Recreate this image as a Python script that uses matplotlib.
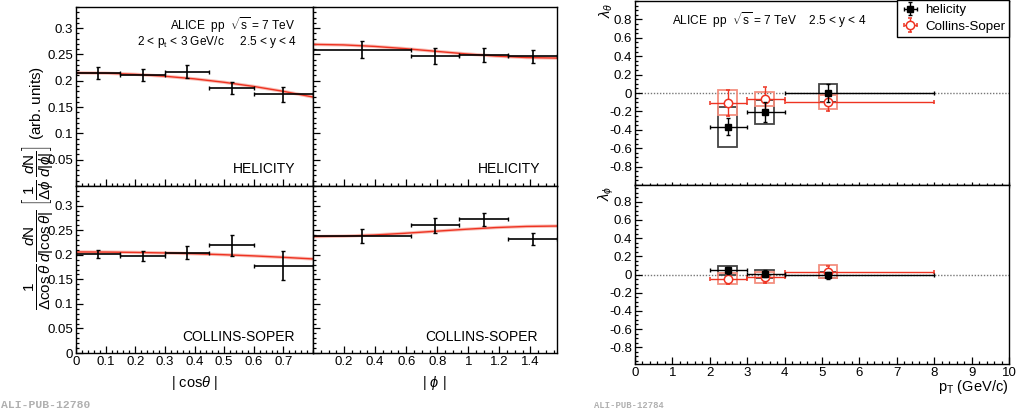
import matplotlib
matplotlib.use("Agg")
import matplotlib.pyplot as plt
from matplotlib.patches import Rectangle
from matplotlib.ticker import MultipleLocator, FuncFormatter

plt.rcParams['font.family'] = ['Liberation Sans', 'DejaVu Sans']
plt.rcParams['mathtext.fontset'] = 'custom'
plt.rcParams['mathtext.rm'] = 'Liberation Sans'
plt.rcParams['mathtext.it'] = 'Liberation Sans:italic'
plt.rcParams['mathtext.bf'] = 'Liberation Sans:bold'
plt.rcParams['axes.unicode_minus'] = False

# ---- angular distributions, 2 < pT < 3 GeV/c ----
cos_edges = [0, 0.15, 0.3, 0.45, 0.6, 0.8]
cos_x = [0.075, 0.225, 0.375, 0.525, 0.7]
phi_edges = [0, 0.628, 0.942, 1.257, 1.571]
phi_x = [0.314, 0.785, 1.100, 1.414]

hel_cos = [0.2145, 0.211, 0.217, 0.186, 0.174]
hel_cos_err = [0.011, 0.012, 0.012, 0.012, 0.014]
hel_phi = [0.2585, 0.247, 0.249, 0.246]
hel_phi_err = [0.016, 0.015, 0.013, 0.012]
cs_cos = [0.2016, 0.198, 0.204, 0.219, 0.178]
cs_cos_err = [0.008, 0.0105, 0.013, 0.022, 0.030]
cs_phi = [0.238, 0.260, 0.272, 0.2315]
cs_phi_err = [0.015, 0.015, 0.0135, 0.012]

# fitted curves
fit_cos_x = [0, 0.1, 0.2, 0.3, 0.4, 0.5, 0.6, 0.7, 0.8]
fit_hel_cos = [0.2150, 0.2143, 0.2121, 0.2085, 0.2035, 0.1970, 0.1891, 0.1798, 0.1690]
fit_cs_cos = [0.2057, 0.2055, 0.2048, 0.2037, 0.2021, 0.2001, 0.1977, 0.1948, 0.1915]
fit_phi_x = [0, 0.196, 0.393, 0.589, 0.785, 0.982, 1.178, 1.374, 1.571]
fit_hel_phi = [0.269, 0.268, 0.2652, 0.261, 0.256, 0.251, 0.2468, 0.244, 0.243]
fit_cs_phi = [0.237, 0.2379, 0.2402, 0.2437, 0.2478, 0.2519, 0.2554, 0.2577, 0.2585]

# ---- polarization parameters vs pT ----
pt = [2.48, 3.47, 5.16]
pt_lo = [2, 3, 4]
pt_hi = [3, 4, 8]
lth_hel = [-0.367, -0.208, 0.0]
lth_hel_stat = [0.093, 0.107, 0.10]
lth_hel_syst = [0.22, 0.13, 0.10]
lth_cs = [-0.104, -0.062, -0.098]
lth_cs_stat = [0.142, 0.129, 0.095]
lth_cs_syst = [0.135, 0.077, 0.08]
lph_hel = [0.047, 0.01, -0.008]
lph_hel_stat = [0.036, 0.04, 0.04]
lph_hel_syst = [0.05, 0.045, 0.035]
lph_cs = [-0.045, -0.03, 0.03]
lph_cs_stat = [0.055, 0.06, 0.06]
lph_cs_syst = [0.065, 0.06, 0.07]

RED = '#ee3322'
W, H = 1025, 415


def frac(x0, y0, x1, y1):
    return [x0 / W, 1 - y1 / H, (x1 - x0) / W, (y1 - y0) / H]


def fx(px):
    return px / W


def fy(py):
    return 1 - py / H


fmt = FuncFormatter(lambda v, p: f"{v:g}")


def style(ax, xlim, ylim, xmaj, xmin, ymaj, ymin, xticks=None, yticks=None,
          labelx=True, labely=True):
    ax.set_xlim(*xlim)
    ax.set_ylim(*ylim)
    ax.xaxis.set_major_locator(MultipleLocator(xmaj))
    ax.xaxis.set_minor_locator(MultipleLocator(xmin))
    ax.yaxis.set_major_locator(MultipleLocator(ymaj))
    ax.yaxis.set_minor_locator(MultipleLocator(ymin))
    if xticks is not None:
        ax.set_xticks(xticks)
    if yticks is not None:
        ax.set_yticks(yticks)
    ax.xaxis.set_major_formatter(fmt)
    ax.yaxis.set_major_formatter(fmt)
    ax.tick_params(which='both', direction='in', top=False, right=False,
                   labelsize=9.5, width=0.9, pad=2)
    ax.tick_params(which='major', length=5)
    ax.tick_params(which='minor', length=2.5)
    ax.tick_params(labelbottom=labelx, labelleft=labely)
    for s in ax.spines.values():
        s.set_linewidth(1.0)


def ang_panel(ax, x, edges, y, err, fx_, fy_):
    lo = [xi - e for xi, e in zip(x, edges[:-1])]
    hi = [e - xi for xi, e in zip(x, edges[1:])]
    ax.plot(fx_, fy_, color='#f9c0b8', lw=2.4, zorder=1)
    ax.plot(fx_, fy_, color=RED, lw=1.0, zorder=2)
    ax.errorbar(x, y, xerr=[lo, hi], yerr=err, fmt='none', ecolor='black',
                elinewidth=1.2, capsize=1.5, capthick=1.0, zorder=3)


fig = plt.figure(figsize=(10.25, 4.15), dpi=100)

ax_hc = fig.add_axes(frac(76, 7, 313, 186))
ax_hp = fig.add_axes(frac(313, 7, 557, 186))
ax_cc = fig.add_axes(frac(76, 186, 313, 353))
ax_cp = fig.add_axes(frac(313, 186, 557, 353))

ang_yt = [0.05, 0.1, 0.15, 0.2, 0.25, 0.3]
style(ax_hc, (0, 0.8), (0, 0.34), 0.1, 0.02, 0.05, 0.01, yticks=ang_yt, labelx=False)
style(ax_hp, (0, 1.5708), (0, 0.34), 0.2, 0.05, 0.05, 0.01, labelx=False, labely=False)
style(ax_cc, (0, 0.8), (0, 0.34), 0.1, 0.02, 0.05, 0.01,
      xticks=[0, 0.1, 0.2, 0.3, 0.4, 0.5, 0.6, 0.7], yticks=[0] + ang_yt)
style(ax_cp, (0, 1.5708), (0, 0.34), 0.2, 0.05, 0.05, 0.01,
      xticks=[0.2, 0.4, 0.6, 0.8, 1.0, 1.2, 1.4], labely=False)

ang_panel(ax_hc, cos_x, cos_edges, hel_cos, hel_cos_err, fit_cos_x, fit_hel_cos)
ang_panel(ax_hp, phi_x, phi_edges, hel_phi, hel_phi_err, fit_phi_x, fit_hel_phi)
ang_panel(ax_cc, cos_x, cos_edges, cs_cos, cs_cos_err, fit_cos_x, fit_cs_cos)
ang_panel(ax_cp, phi_x, phi_edges, cs_phi, cs_phi_err, fit_phi_x, fit_cs_phi)

fig.text(fx(295), fy(25), r"ALICE  pp  $\sqrt{\mathrm{s}}$ = 7 TeV", ha='right', va='center', fontsize=8.6)
fig.text(fx(297), fy(42), r"2 < p$_{\mathrm{t}}$ < 3 GeV/c     2.5 < y < 4", ha='right', va='center', fontsize=8.6)
fig.text(fx(295), fy(169), "HELICITY", ha='right', va='center', fontsize=10)
fig.text(fx(540), fy(169), "HELICITY", ha='right', va='center', fontsize=10)
fig.text(fx(295), fy(337), "COLLINS-SOPER", ha='right', va='center', fontsize=10)
fig.text(fx(538), fy(337), "COLLINS-SOPER", ha='right', va='center', fontsize=10)

ylab = (r"$\dfrac{1}{\Delta\cos\theta}\,\dfrac{d\mathrm{N}}{d|\cos\theta|}\;"
        r"\left[\dfrac{1}{\Delta\phi}\,\dfrac{d\mathrm{N}}{d|\phi|}\right]$ (arb. units)")
fig.text(fx(38), fy(188), ylab, rotation=90, ha='center', va='center', fontsize=11)
fig.text(fx(194), fy(383), r"| cos$\theta$ |", ha='center', va='center', fontsize=10.5)
fig.text(fx(434), fy(383), r"| $\phi$ |", ha='center', va='center', fontsize=10.5)

# ---- lambda vs pT ----
ax_lt = fig.add_axes(frac(635, 1, 1009, 185))
ax_lp = fig.add_axes(frac(635, 185, 1009, 364))
lam_yt = [-0.8, -0.6, -0.4, -0.2, 0, 0.2, 0.4, 0.6, 0.8]
style(ax_lt, (0, 10), (-1, 1), 1, 0.2, 0.2, 0.05, yticks=lam_yt, labelx=False)
style(ax_lp, (0, 10), (-0.985, 0.985), 1, 0.2, 0.2, 0.05, yticks=lam_yt,
      xticks=list(range(11)))
ax_lt.tick_params(axis='x', which='both', direction='inout')


def lam_panel(ax, hel, hel_stat, hel_syst, cs, cs_stat, cs_syst):
    ax.axhline(0, color='#777777', ls=(0, (1, 1.2)), lw=1.0, zorder=0)
    xlo = [p - lo for p, lo in zip(pt, pt_lo)]
    xhi = [hi - p for p, hi in zip(pt, pt_hi)]
    for p, y, s in zip(pt, hel, hel_syst):
        ax.add_patch(Rectangle((p - 0.25, y - s), 0.5, 2 * s, fill=False,
                               edgecolor='#444444', lw=1.3, zorder=2))
    for p, y, s in zip(pt, cs, cs_syst):
        ax.add_patch(Rectangle((p - 0.25, y - s), 0.5, 2 * s, fill=False,
                               edgecolor='#f39080', lw=1.3, zorder=2))
    h1 = ax.errorbar(pt, hel, xerr=[xlo, xhi], yerr=hel_stat, fmt='s', color='black',
                     ms=5, elinewidth=1.0, capsize=1.5, zorder=4)
    h2 = ax.errorbar(pt, cs, xerr=[xlo, xhi], yerr=cs_stat, fmt='o', color=RED,
                     mfc='white', mec=RED, mew=1.1, ms=6, elinewidth=1.0,
                     capsize=1.5, zorder=3)
    return h1, h2


h1, h2 = lam_panel(ax_lt, lth_hel, lth_hel_stat, lth_hel_syst, lth_cs, lth_cs_stat, lth_cs_syst)
lam_panel(ax_lp, lph_hel, lph_hel_stat, lph_hel_syst, lph_cs, lph_cs_stat, lph_cs_syst)

leg = ax_lt.legend([h1, h2], ["helicity", "Collins-Soper"], loc='upper right',
                   bbox_to_anchor=(1.0, 1.005), frameon=True, fancybox=False,
                   edgecolor='black', fontsize=9.6, borderaxespad=0,
                   handlelength=1.4, handletextpad=0.4, borderpad=0.3,
                   labelspacing=0.3, framealpha=1)
leg.get_frame().set_linewidth(1.0)

ax_lt.text(fx(672), fy(20), r"ALICE  pp  $\sqrt{\mathrm{s}}$ = 7 TeV    2.5 < y < 4",
           transform=fig.transFigure, ha='left', va='center', fontsize=8.6)
fig.text(fx(606), fy(3), r"$\lambda_\theta$", rotation=90, ha='center', va='top', fontsize=10.5)
fig.text(fx(606), fy(186), r"$\lambda_\phi$", rotation=90, ha='center', va='top', fontsize=10.5)
fig.text(fx(1008), fy(387), r"p$_{\mathrm{T}}$ (GeV/c)", ha='right', va='center', fontsize=10.5)

fig.text(fx(1), fy(405), "ALI-PUB-12780", family='Liberation Mono', weight='bold',
         color='#b0b0b0', fontsize=8.2, ha='left', va='center')
fig.text(fx(594), fy(405), "ALI-PUB-12784", family='Liberation Mono', weight='bold',
         color='#b0b0b0', fontsize=6.4, ha='left', va='center')

fig.savefig("out.png", dpi=100)
